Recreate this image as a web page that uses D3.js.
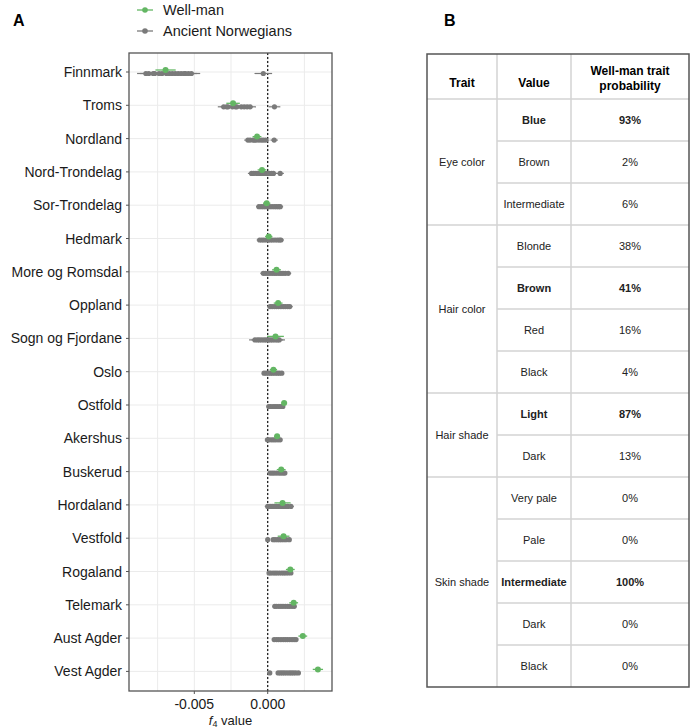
<!DOCTYPE html>
<html>
<head>
<meta charset="utf-8">
<script src="https://cdn.jsdelivr.net/npm/d3@7"></script>
<style>
  body { margin: 0; background: #fff; }
  svg { font-family: "Liberation Sans", Arial, sans-serif; }
</style>
</head>
<body>
<div id="chart"></div>
<script>
// ---- panel A data ----
var regions = ["Finnmark", "Troms", "Nordland", "Nord-Trondelag", "Sor-Trondelag", "Hedmark",
  "More og Romsdal", "Oppland", "Sogn og Fjordane", "Oslo", "Ostfold", "Akershus", "Buskerud",
  "Hordaland", "Vestfold", "Rogaland", "Telemark", "Aust Agder", "Vest Agder"];

var wellman = [-0.00696, -0.00236, -0.00073, -0.00039, -0.00007, 0.00007, 0.00060, 0.00071, 0.00053,
  0.00039, 0.00112, 0.00064, 0.00092, 0.00101, 0.00108, 0.00154, 0.00177, 0.00239, 0.00342];
var wellmanSE = [0.00069, 0.00046, 0.00030, 0.00030, 0.00025, 0.00025, 0.00030, 0.00030, 0.00057,
  0.00025, 0.00020, 0.00020, 0.00030, 0.00055, 0.00040, 0.00030, 0.00030, 0.00030, 0.00035];

var ancient = [
  [-0.0083, -0.0081, -0.0078, -0.0077, -0.0074, -0.0072, -0.0069, -0.0067, -0.0065, -0.0063, -0.0061, -0.0059, -0.0057, -0.0056, -0.0054, -0.0052, -0.0003],
  [-0.0030, -0.0028, -0.0027, -0.0024, -0.0022, -0.0021, -0.0018, -0.0016, -0.0014, -0.0012, 0.00046],
  [-0.00135, -0.0012, -0.0010, -0.0009, -0.00078, -0.0006, -0.00044, -0.0003, -0.00014, 0.00044],
  [-0.0011, -0.00096, -0.0008, -0.00063, -0.0005, -0.00034, -0.0002, -0.00006, 0.0001, 0.00026, 0.00039, 0.00085],
  [-0.0006, -0.00044, -0.0003, -0.00016, 0.0, 0.00014, 0.0003, 0.00046, 0.0006, 0.00074, 0.00085],
  [-0.00055, -0.0004, -0.00026, -0.0001, 0.00006, 0.0002, 0.00034, 0.0005, 0.00066, 0.0008, 0.0009],
  [-0.0003, -0.00016, 0.0, 0.00014, 0.0003, 0.00046, 0.0006, 0.00076, 0.0009, 0.00104, 0.0012, 0.0014],
  [0.00016, 0.0003, 0.00046, 0.0006, 0.00074, 0.0009, 0.00106, 0.0012, 0.00136, 0.0015],
  [-0.00087, -0.0007, -0.00056, -0.0004, -0.00024, -0.0001, 0.00006, 0.0002, 0.00034, 0.0005, 0.00066, 0.00078],
  [-0.00025, -0.0001, 0.00006, 0.0002, 0.00034, 0.0005, 0.00066, 0.0008, 0.00096],
  [0.00007, 0.0002, 0.00036, 0.0005, 0.00064, 0.0008, 0.00094, 0.00103],
  [-0.00002, 0.0001, 0.00026, 0.0004, 0.00054, 0.0007, 0.00085],
  [0.00016, 0.0003, 0.00044, 0.0006, 0.00076, 0.0009, 0.00104, 0.00117],
  [0.0, 0.00016, 0.0003, 0.00044, 0.0006, 0.00076, 0.0009, 0.00104, 0.0012, 0.00136, 0.00158],
  [0.0, 0.00037, 0.0005, 0.00066, 0.0008, 0.00094, 0.0011, 0.00126, 0.00147],
  [0.00009, 0.0002, 0.00036, 0.0005, 0.00064, 0.0008, 0.00096, 0.0011, 0.00124, 0.0014, 0.00158],
  [0.00048, 0.0006, 0.00076, 0.0009, 0.00104, 0.0012, 0.00136, 0.0015, 0.00166, 0.00181],
  [0.00044, 0.0006, 0.00074, 0.0009, 0.00106, 0.0012, 0.00134, 0.0015, 0.00166, 0.0018, 0.00193],
  [0.00014, 0.00071, 0.00086, 0.001, 0.00114, 0.0013, 0.00146, 0.0016, 0.00174, 0.0019, 0.00209]
];
var ancientSE = [0.0006, 0.0004, 0.00025, 0.00025, 0.0002, 0.0002, 0.0002, 0.0002, 0.0004, 0.0001,
  0.0001, 0.0001, 0.0001, 0.0002, 0.0001, 0.0001, 0.0001, 0.0001, 0.00015];

var xTicks = [-0.005, 0.000];
var xMinor = [-0.0075, -0.0025, 0.0025];

// ---- panel B data ----
var traits = ["Eye color", "Hair color", "Hair shade", "Skin shade"];
var traitSizes = [3, 4, 2, 5];
var traitValues = ["Blue", "Brown", "Intermediate", "Blonde", "Brown", "Red", "Black",
  "Light", "Dark", "Very pale", "Pale", "Intermediate", "Dark", "Black"];
var probabilities = ["93%", "2%", "6%", "38%", "41%", "16%", "4%", "87%", "13%", "0%", "0%", "100%", "0%", "0%"];
var boldRows = [true, false, false, false, true, false, false, true, false, false, false, true, false, false];

var green = "#63b663", grey = "#7a7a7a";

var svg = d3.select("#chart").append("svg")
    .attr("width", 693)
    .attr("height", 728);

// ================= Panel A =================
var plot = { left: 129, right: 332, top: 53, bottom: 691 };

var x = d3.scaleLinear().domain([-0.00945, 0.00438]).range([plot.left, plot.right]);
var y = d3.scalePoint().domain(regions).range([72, 671.4]);

svg.append("text").attr("x", 13).attr("y", 26)
   .attr("font-size", 16).attr("font-weight", "bold").text("A");

// gridlines
var grid = svg.append("g");
grid.selectAll(".gx").data(xTicks.concat(xMinor)).enter().append("line")
    .attr("x1", d => x(d)).attr("x2", d => x(d))
    .attr("y1", plot.top).attr("y2", plot.bottom)
    .attr("stroke", "#ebebeb").attr("stroke-width", 1);
grid.selectAll(".gy").data(regions).enter().append("line")
    .attr("x1", plot.left).attr("x2", plot.right)
    .attr("y1", d => y(d)).attr("y2", d => y(d))
    .attr("stroke", "#ebebeb").attr("stroke-width", 1);

// zero line
svg.append("line")
   .attr("x1", x(0)).attr("x2", x(0))
   .attr("y1", plot.top).attr("y2", plot.bottom)
   .attr("stroke", "#111").attr("stroke-width", 1.2)
   .attr("stroke-dasharray", "2,2");

// ancient norwegians
var anc = svg.append("g");
regions.forEach(function (r, i) {
  var g = anc.append("g");
  g.selectAll("line").data(ancient[i]).enter().append("line")
   .attr("x1", d => x(d - ancientSE[i])).attr("x2", d => x(d + ancientSE[i]))
   .attr("y1", y(r) + 1.5).attr("y2", y(r) + 1.5)
   .attr("stroke", grey).attr("stroke-width", 1.2);
  g.selectAll("circle").data(ancient[i]).enter().append("circle")
   .attr("cx", d => x(d)).attr("cy", y(r) + 1.5).attr("r", 2.6)
   .attr("fill", grey);
});

// well-man
var wm = svg.append("g");
wm.selectAll("line").data(regions).enter().append("line")
  .attr("x1", (d, i) => x(wellman[i] - wellmanSE[i]))
  .attr("x2", (d, i) => x(wellman[i] + wellmanSE[i]))
  .attr("y1", d => y(d) - 2).attr("y2", d => y(d) - 2)
  .attr("stroke", green).attr("stroke-width", 1.3);
wm.selectAll("circle").data(regions).enter().append("circle")
  .attr("cx", (d, i) => x(wellman[i])).attr("cy", d => y(d) - 2).attr("r", 3)
  .attr("fill", green);

// frame
svg.append("rect")
   .attr("x", plot.left).attr("y", plot.top)
   .attr("width", plot.right - plot.left).attr("height", plot.bottom - plot.top)
   .attr("fill", "none").attr("stroke", "#555").attr("stroke-width", 1.3);

// y axis
var yl = svg.append("g");
yl.selectAll("line").data(regions).enter().append("line")
  .attr("x1", plot.left - 3).attr("x2", plot.left)
  .attr("y1", d => y(d)).attr("y2", d => y(d))
  .attr("stroke", "#555");
yl.selectAll("text").data(regions).enter().append("text")
  .attr("x", plot.left - 7).attr("y", d => y(d) + 5)
  .attr("text-anchor", "end").attr("font-size", 14).attr("fill", "#1a1a1a")
  .text(d => d);

// x axis
var xl = svg.append("g");
xl.selectAll("line").data(xTicks).enter().append("line")
  .attr("x1", d => x(d)).attr("x2", d => x(d))
  .attr("y1", plot.bottom).attr("y2", plot.bottom + 3)
  .attr("stroke", "#555");
xl.selectAll("text").data(xTicks).enter().append("text")
  .attr("x", d => x(d)).attr("y", plot.bottom + 18)
  .attr("text-anchor", "middle").attr("font-size", 14).attr("fill", "#1a1a1a")
  .text(d => d3.format(".3f")(d).replace("−", "-"));

var title = svg.append("text")
   .attr("x", (plot.left + plot.right) / 2).attr("y", 725)
   .attr("text-anchor", "middle").attr("font-size", 13).attr("fill", "#1a1a1a");
title.append("tspan").attr("font-style", "italic").text("f");
title.append("tspan").attr("font-size", 9).attr("dy", 2).text("4");
title.append("tspan").attr("dy", -2).text(" value");

// legend
var legend = [{ name: "Well-man", color: green }, { name: "Ancient Norwegians", color: grey }];
var lg = svg.selectAll(".leg").data(legend).enter().append("g")
  .attr("transform", (d, i) => "translate(0," + (10 + i * 21) + ")");
lg.append("line").attr("x1", 137).attr("x2", 153).attr("y1", 0).attr("y2", 0)
  .attr("stroke", d => d.color).attr("stroke-width", 1.3);
lg.append("circle").attr("cx", 145).attr("cy", 0).attr("r", 2.8).attr("fill", d => d.color);
lg.append("text").attr("x", 163).attr("y", 5).attr("font-size", 14.5).attr("fill", "#1a1a1a")
  .text(d => d.name);

// ================= Panel B =================
svg.append("text").attr("x", 444).attr("y", 26)
   .attr("font-size", 16).attr("font-weight", "bold").text("B");

var tb = { left: 427, right: 689, top: 54, head: 99, bottom: 687 };
var cols = [427, 497, 571, 689];
var rowY = d3.scaleLinear().domain([0, traitValues.length]).range([tb.head, tb.bottom]);

var table = svg.append("g");
var lineColor = "#d3d3d3";

// horizontal lines for value / probability columns
table.selectAll(".hl").data(d3.range(1, traitValues.length)).enter().append("line")
  .attr("x1", cols[1]).attr("x2", cols[3])
  .attr("y1", d => rowY(d)).attr("y2", d => rowY(d))
  .attr("stroke", lineColor).attr("stroke-width", 1.5);

// group separators across the trait column
var starts = Array.from(d3.cumsum(traitSizes));
var groupStart = [0].concat(starts.slice(0, -1));
table.selectAll(".gl").data(groupStart.slice(1)).enter().append("line")
  .attr("x1", cols[0]).attr("x2", cols[1])
  .attr("y1", d => rowY(d)).attr("y2", d => rowY(d))
  .attr("stroke", lineColor).attr("stroke-width", 1.5);

// header bottom
table.append("line").attr("x1", tb.left).attr("x2", tb.right)
  .attr("y1", tb.head).attr("y2", tb.head)
  .attr("stroke", lineColor).attr("stroke-width", 1.5);

// vertical lines
table.selectAll(".vl").data(cols.slice(1, 3)).enter().append("line")
  .attr("x1", d => d).attr("x2", d => d)
  .attr("y1", tb.top).attr("y2", tb.bottom)
  .attr("stroke", lineColor).attr("stroke-width", 1.5);

table.append("rect")
  .attr("x", tb.left).attr("y", tb.top)
  .attr("width", tb.right - tb.left).attr("height", tb.bottom - tb.top)
  .attr("fill", "none").attr("stroke", "#555").attr("stroke-width", 1.5);

// header
var mid = function (i) { return (cols[i] + cols[i + 1]) / 2; };
table.append("text").attr("x", mid(0)).attr("y", 87).attr("text-anchor", "middle")
  .attr("font-size", 12).attr("font-weight", "bold").text("Trait");
table.append("text").attr("x", mid(1)).attr("y", 87).attr("text-anchor", "middle")
  .attr("font-size", 12).attr("font-weight", "bold").text("Value");
table.append("text").attr("x", mid(2)).attr("y", 75).attr("text-anchor", "middle")
  .attr("font-size", 12).attr("font-weight", "bold").text("Well-man trait");
table.append("text").attr("x", mid(2)).attr("y", 90).attr("text-anchor", "middle")
  .attr("font-size", 12).attr("font-weight", "bold").text("probability");

// trait labels
table.selectAll(".tr").data(traits).enter().append("text")
  .attr("x", mid(0))
  .attr("y", (d, i) => rowY(groupStart[i] + traitSizes[i] / 2) + 4)
  .attr("text-anchor", "middle").attr("font-size", 11).attr("fill", "#222")
  .text(d => d);

table.selectAll(".tv").data(traitValues).enter().append("text")
  .attr("x", mid(1)).attr("y", (d, i) => rowY(i + 0.5) + 4)
  .attr("text-anchor", "middle").attr("font-size", 11).attr("fill", "#222")
  .attr("font-weight", (d, i) => boldRows[i] ? "bold" : "normal")
  .text(d => d);

table.selectAll(".pv").data(probabilities).enter().append("text")
  .attr("x", mid(2)).attr("y", (d, i) => rowY(i + 0.5) + 4)
  .attr("text-anchor", "middle").attr("font-size", 11).attr("fill", "#222")
  .attr("font-weight", (d, i) => boldRows[i] ? "bold" : "normal")
  .text(d => d);
</script>
</body>
</html>
